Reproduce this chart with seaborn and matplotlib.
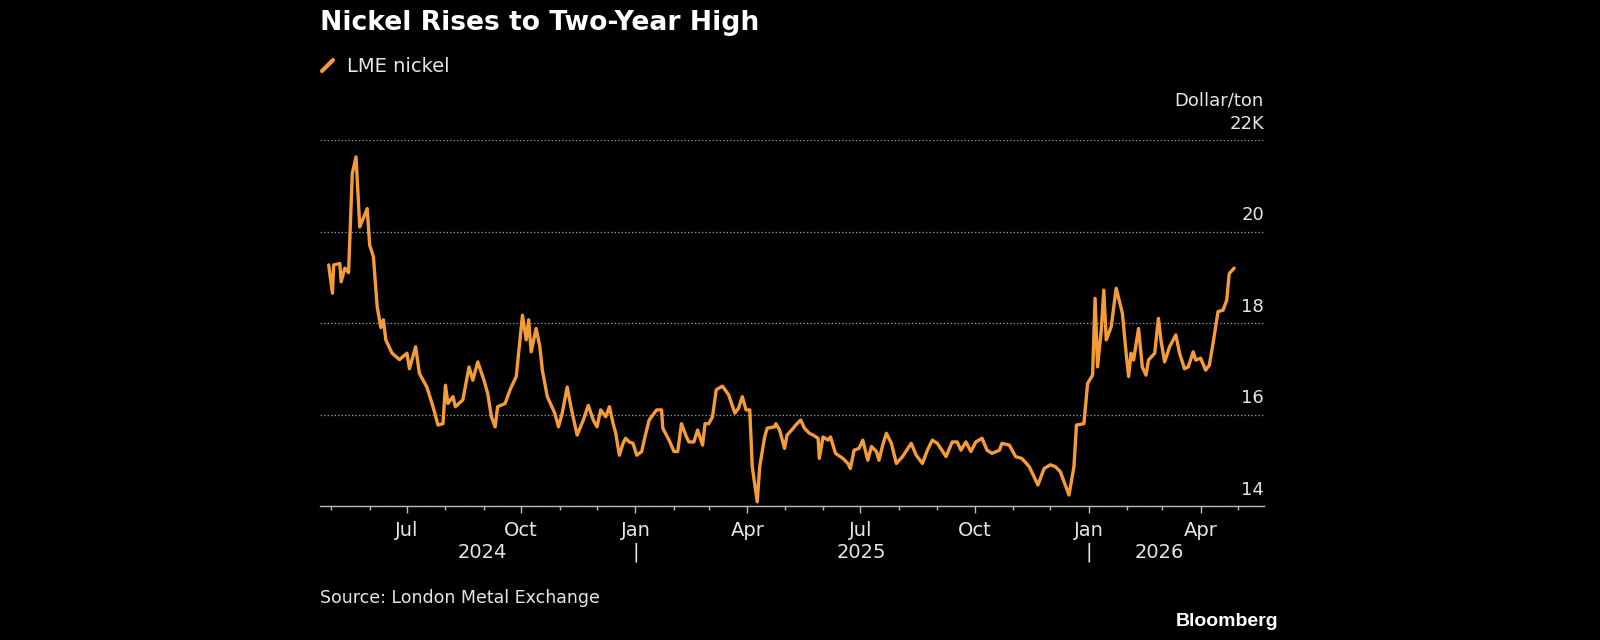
import pandas as pd
import matplotlib
matplotlib.use("Agg")
import matplotlib.pyplot as plt
import matplotlib.dates as mdates
import matplotlib.transforms as mtransforms
from matplotlib.lines import Line2D
import seaborn as sns

# LME nickel, thousand dollars per ton
dates = [
    "2024-04-29", "2024-05-02", "2024-05-03", "2024-05-08", "2024-05-09", "2024-05-12",
    "2024-05-15", "2024-05-18", "2024-05-21", "2024-05-24", "2024-05-30", "2024-06-01",
    "2024-06-04", "2024-06-07", "2024-06-10", "2024-06-12", "2024-06-14", "2024-06-19",
    "2024-06-25", "2024-07-01", "2024-07-03", "2024-07-08", "2024-07-11", "2024-07-17",
    "2024-07-22", "2024-07-26", "2024-07-30", "2024-08-01", "2024-08-03", "2024-08-07",
    "2024-08-09", "2024-08-15", "2024-08-20", "2024-08-23", "2024-08-27", "2024-09-01",
    "2024-09-04", "2024-09-07", "2024-09-10", "2024-09-12", "2024-09-18", "2024-09-22",
    "2024-09-27", "2024-10-02", "2024-10-05", "2024-10-07", "2024-10-09", "2024-10-13",
    "2024-10-16", "2024-10-18", "2024-10-22", "2024-10-28", "2024-10-31", "2024-11-03",
    "2024-11-07", "2024-11-10", "2024-11-15", "2024-11-20", "2024-11-24", "2024-11-28",
    "2024-12-01", "2024-12-04", "2024-12-08", "2024-12-11", "2024-12-14", "2024-12-16",
    "2024-12-19", "2024-12-22", "2024-12-24", "2024-12-27", "2024-12-30",
    "2025-01-02", "2025-01-06", "2025-01-08", "2025-01-12", "2025-01-18", "2025-01-22",
    "2025-01-23", "2025-01-28", "2025-02-01", "2025-02-04", "2025-02-07", "2025-02-11",
    "2025-02-13", "2025-02-17", "2025-02-20", "2025-02-24", "2025-02-26", "2025-03-01",
    "2025-03-04", "2025-03-07", "2025-03-12", "2025-03-17", "2025-03-22", "2025-03-25",
    "2025-03-28", "2025-03-31", "2025-04-03", "2025-04-05", "2025-04-09", "2025-04-11",
    "2025-04-15", "2025-04-17", "2025-04-23", "2025-04-24", "2025-04-27", "2025-05-01",
    "2025-05-03", "2025-05-08", "2025-05-10", "2025-05-14", "2025-05-17", "2025-05-21",
    "2025-05-24", "2025-05-28", "2025-05-29", "2025-06-01", "2025-06-05", "2025-06-07",
    "2025-06-11", "2025-06-17", "2025-06-21", "2025-06-23", "2025-06-26", "2025-06-30",
    "2025-07-03", "2025-07-07", "2025-07-10", "2025-07-14", "2025-07-16", "2025-07-19",
    "2025-07-22", "2025-07-26", "2025-07-30", "2025-08-04", "2025-08-11", "2025-08-15",
    "2025-08-20", "2025-08-24", "2025-08-28", "2025-09-01", "2025-09-08", "2025-09-13",
    "2025-09-17", "2025-09-20", "2025-09-24", "2025-09-28", "2025-10-02", "2025-10-07",
    "2025-10-11", "2025-10-15", "2025-10-21", "2025-10-23", "2025-10-29", "2025-11-03",
    "2025-11-08", "2025-11-14", "2025-11-21", "2025-11-26", "2025-12-01", "2025-12-05",
    "2025-12-09", "2025-12-16", "2025-12-20", "2025-12-22", "2025-12-28", "2025-12-31",
    "2026-01-04", "2026-01-06", "2026-01-08", "2026-01-11", "2026-01-13", "2026-01-15",
    "2026-01-19", "2026-01-23", "2026-01-25", "2026-01-28", "2026-01-31", "2026-02-02",
    "2026-02-04", "2026-02-06", "2026-02-10", "2026-02-13", "2026-02-16", "2026-02-18",
    "2026-02-23", "2026-02-26", "2026-02-28", "2026-03-03", "2026-03-07", "2026-03-12",
    "2026-03-15", "2026-03-19", "2026-03-22", "2026-03-26", "2026-03-28", "2026-04-01",
    "2026-04-05", "2026-04-08", "2026-04-11", "2026-04-15", "2026-04-19", "2026-04-22",
    "2026-04-24", "2026-04-28",
]
nickel = [
    19.27, 18.65, 19.27, 19.30, 18.90, 19.20,
    19.10, 21.27, 21.63, 20.10, 20.50, 19.70,
    19.45, 18.36, 17.90, 18.07, 17.63, 17.34,
    17.20, 17.34, 17.00, 17.48, 16.90, 16.60,
    16.17, 15.77, 15.80, 16.64, 16.24, 16.39,
    16.17, 16.32, 17.04, 16.75, 17.15, 16.75,
    16.46, 15.95, 15.73, 16.17, 16.24, 16.54,
    16.83, 18.17, 17.63, 18.07, 17.37, 17.88,
    17.48, 16.97, 16.39, 16.03, 15.73, 16.03,
    16.60, 16.17, 15.55, 15.88, 16.20, 15.88,
    15.73, 16.10, 15.95, 16.17, 15.80, 15.60,
    15.11, 15.37, 15.48, 15.40, 15.37,
    15.11, 15.19, 15.44, 15.88, 16.10, 16.10,
    15.70, 15.44, 15.19, 15.19, 15.80, 15.51,
    15.40, 15.40, 15.66, 15.33, 15.80, 15.80,
    15.95, 16.54, 16.62, 16.43, 16.03, 16.14,
    16.39, 16.10, 16.10, 14.86, 14.09, 14.86,
    15.51, 15.70, 15.73, 15.80, 15.66, 15.26,
    15.55, 15.70, 15.77, 15.88, 15.70, 15.59,
    15.55, 15.48, 15.04, 15.51, 15.44, 15.51,
    15.15, 15.04, 14.93, 14.82, 15.22, 15.26,
    15.44, 15.00, 15.30, 15.19, 15.00, 15.33,
    15.59, 15.37, 14.93, 15.08, 15.37, 15.11,
    14.93, 15.22, 15.44, 15.37, 15.08, 15.40,
    15.40, 15.22, 15.40, 15.19, 15.40, 15.48,
    15.22, 15.15, 15.22, 15.37, 15.33, 15.08,
    15.04, 14.86, 14.46, 14.82, 14.90, 14.86,
    14.75, 14.24, 14.86, 15.77, 15.80, 16.68,
    16.86, 18.54, 17.04, 17.85, 18.72, 17.63,
    17.92, 18.76, 18.54, 18.21, 17.34, 16.83,
    17.34, 17.19, 17.88, 17.04, 16.86, 17.19,
    17.34, 18.10, 17.63, 17.15, 17.48, 17.74,
    17.34, 17.00, 17.04, 17.37, 17.19, 17.23,
    16.97, 17.08, 17.56, 18.25, 18.28, 18.50,
    19.08, 19.20,
]

y_ticks = [14, 16, 18, 20, 22]
y_tick_labels = ["14", "16", "18", "20", "22K"]
year_labels = ["2024", "2025", "2026"]
year_label_dates = ["2024-08-31", "2025-07-02", "2026-02-27"]
year_breaks = ["2025-01-01", "2026-01-01"]

ORANGE = "#F59B38"
TEXT = "#E6E6E6"
GRID = "#8A8A8A"

df = pd.DataFrame({"date": pd.to_datetime(dates), "price": nickel})

sns.set_theme(style="dark", rc={"axes.facecolor": "black", "figure.facecolor": "black"})
plt.rcParams["font.family"] = ["DejaVu Sans"]

fig = plt.figure(figsize=(16, 6.4), dpi=100)
ax = fig.add_axes([0.2, 1 - 506 / 640, (1264 - 320) / 1600, (506 - 140) / 640])

sns.lineplot(data=df, x="date", y="price", ax=ax, color=ORANGE, linewidth=2.4,
             solid_joinstyle="round", solid_capstyle="round")

ax.set_xlim(pd.Timestamp("2024-04-22"), pd.Timestamp("2026-05-22"))
ax.set_ylim(14, 22)
ax.set(xlabel="", ylabel="")

# y grid; labels sit above the grid lines at the right end
ax.set_yticks(y_ticks)
ax.tick_params(axis="y", left=False, labelleft=False)
ax.yaxis.grid(True, color=GRID, linestyle=(0, (1.2, 1.6)), linewidth=0.9)
ax.xaxis.grid(False)
ytrans = mtransforms.blended_transform_factory(ax.transAxes, ax.transData)
for v, lab in zip(y_ticks, y_tick_labels):
    ax.text(1.0, v + 0.35, lab, transform=ytrans, ha="right", va="center",
            color=TEXT, fontsize=13, clip_on=False)
ax.text(1.0, 22.87, "Dollar/ton", transform=ytrans, ha="right", va="center",
        color=TEXT, fontsize=13, clip_on=False)

# x axis: monthly minor ticks, quarterly labels
ax.xaxis.set_major_locator(mdates.MonthLocator(bymonth=[1, 4, 7, 10]))
ax.xaxis.set_major_formatter(mdates.DateFormatter("%b"))
ax.xaxis.set_minor_locator(mdates.MonthLocator())
ax.tick_params(axis="x", which="major", bottom=True, length=5, width=1,
               color="#BBBBBB", labelcolor=TEXT, labelsize=14, pad=6)
ax.tick_params(axis="x", which="minor", bottom=True, length=3, width=1,
               color="#BBBBBB")

for side in ["top", "left", "right"]:
    ax.spines[side].set_visible(False)
ax.spines["bottom"].set_color("#BBBBBB")
ax.spines["bottom"].set_linewidth(1)

xtrans = mtransforms.blended_transform_factory(ax.transData, ax.transAxes)
for d, lab in zip(year_label_dates, year_labels):
    ax.text(mdates.date2num(pd.Timestamp(d)), -0.126, lab, transform=xtrans,
            ha="center", va="center", color=TEXT, fontsize=14)
for d in year_breaks:
    ax.text(mdates.date2num(pd.Timestamp(d)), -0.126, "|", transform=xtrans,
            ha="center", va="center", color=TEXT, fontsize=14)

# header
fig.text(320 / 1600, 1 - 23 / 640, "Nickel Rises to Two-Year High", color="white",
         fontsize=19.2, fontweight="bold", ha="left", va="center")
fig.add_artist(Line2D([322 / 1600, 333 / 1600], [1 - 71 / 640, 1 - 60 / 640],
                      color=ORANGE, linewidth=3, solid_capstyle="round"))
fig.text(347 / 1600, 1 - 66 / 640, "LME nickel", color=TEXT, fontsize=14,
         ha="left", va="center")

# footer
fig.text(320 / 1600, 1 - 598 / 640, "Source: London Metal Exchange", color=TEXT,
         fontsize=12.5, ha="left", va="center")
fig.text(1278 / 1600, 1 - 622 / 640, "Bloomberg", color="white", fontsize=14,
         fontweight="bold", ha="right", va="center",
         family=["Liberation Sans", "DejaVu Sans"])

fig.savefig("out.png", dpi=100, facecolor="black")
